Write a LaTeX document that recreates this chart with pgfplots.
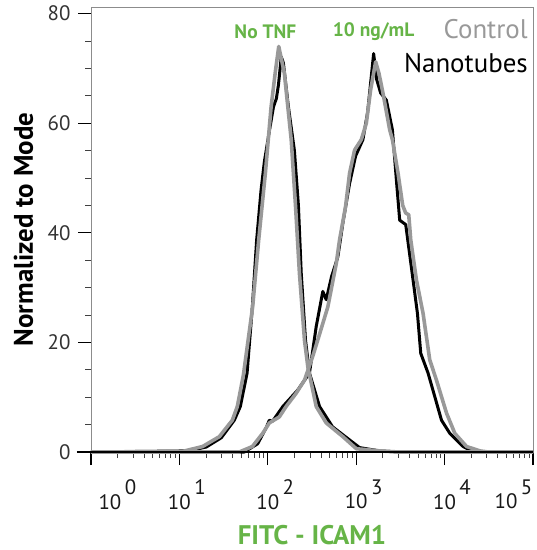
\documentclass[border=0pt]{standalone}
\usepackage{pgfplots}
\pgfplotsset{compat=1.18}
\usepackage{fontspec}
\setmainfont{PT Sans}
\definecolor{ctrlgray}{HTML}{999999}
\definecolor{labelgreen}{HTML}{66B447}
\definecolor{framegray}{HTML}{8C8C8C}
% "10" centred on the tick, exponent hanging to the right; optional shift of the whole label
\newcommand{\dec}[2][0bp]{\makebox[0pt][l]{\hspace*{#1}\makebox[0pt]{10\rlap{\raisebox{0.7em}{\,#2}}}}}

\begin{document}
\begin{tikzpicture}
\begin{axis}[
    scale only axis,
    width=442bp, height=445bp,
    xmode=log,
    xmin=1, xmax=100000,
    ymin=0, ymax=81.2,
    clip=false,
    axis line style={framegray, line width=0.7bp},
    tick align=outside,
    xtick pos=bottom, ytick pos=left,
    xtick={1,10,100,1000,10000,100000},
    minor xtick={2,3,4,5,6,7,8,9,20,30,40,50,60,70,80,90,200,300,400,500,600,700,800,900,
                 2000,3000,4000,5000,6000,7000,8000,9000,20000,30000,40000,50000,60000,70000,80000,90000},
    xticklabels={\dec[19bp]{0}, \dec{1}, \dec{2}, \dec{3}, \dec{4}, \dec[-27bp]{5}},
    ytick={0,20,40,60,80},
    minor ytick={5,10,15,25,30,35,45,50,55,65,70,75},
    major tick length=13bp,
    minor tick length=6bp,
    every major tick/.style={black, line width=1.2bp},
    every minor tick/.style={black!75, line width=0.8bp},
    /pgf/number format/assume math mode=true,
    yticklabel style={font=\fontsize{21}{24}\selectfont, text=black!80, xshift=-4bp},
    xticklabel style={font=\fontsize{21}{24}\selectfont, text=black!90, yshift=-11bp},
    xlabel={FITC - ICAM1},
    ylabel={Normalized to Mode},
    xlabel style={font=\fontsize{27}{30}\selectfont\bfseries, text=labelgreen,
                  at={(rel axis cs:0.5,0)}, anchor=base, yshift=-92bp},
    ylabel style={font=\fontsize{27}{30}\selectfont\bfseries,
                  at={(rel axis cs:0,0.5)}, anchor=base, yshift=58bp},
]
% Nanotubes, no TNF
\addplot[black, line width=3bp, line join=round] coordinates {
(1,0) (12.3,0.2) (20.1,0.9) (29.8,2.6) (41.8,5.8) (48.9,8.3) (58.3,14.4) (66.9,26.5)
(74.8,38.7) (83.9,47.8) (91.5,53) (104,58.5) (116,63) (125,64.5) (132,67) (142,72.1)
(150,71) (171,63) (200,55) (222,45) (239,32.6) (267,20.4) (296,14.4) (385,8.3)
(540,4.6) (842,2.2) (1093,0.8) (1842,0.2) (3000,0) (100000,0)
};
% Nanotubes, 10 ng/mL
\addplot[black, line width=3bp, line join=round] coordinates {
(1,0) (54.3,0) (76.8,1.5) (96.4,4.5) (104,5.8) (113,5.6) (148,8.3) (218,11.3)
(296,14.4) (353,22.9) (419,29.3) (458,27.8) (526,32) (620,35.6) (707,41.8) (842,49)
(984,54) (1191,57) (1347,62) (1575,72.7) (1703,68) (1891,65.5) (2194,64.2) (2567,58.8)
(2849,49.6) (3105,42.3) (3632,41.5) (4396,31.4) (4929,25.3) (5373,18.0) (6501,14.4)
(7744,10.1) (9225,5.8) (11460,3.4) (16210,1.0) (20180,0.2) (26000,0) (100000,0)
};
% Control, no TNF
\addplot[ctrlgray, line width=3.6bp, line join=round] coordinates {
(1,0) (10.8,0.1) (18.3,1.0) (28.3,2.8) (39.7,5.8) (45.2,8.3) (52.9,14) (67.4,26.5)
(78.9,38.7) (93.9,50.9) (109,63) (122,69.5) (133,74) (154,69.1) (184,57) (206,44.8)
(228,32.6) (260,20.4) (284,15.5) (353,8.3) (458,5.3) (707,2.8) (1003,0.6) (1842,0.2)
(3000,0) (100000,0)
};
% Control, 10 ng/mL
\addplot[ctrlgray, line width=3.6bp, line join=round] coordinates {
(1,0) (47.6,0) (66.9,1.0) (87.5,3.4) (104,5.3) (135,6.4) (161,8.3) (209,10.7)
(260,13.1) (323,17.5) (385,21.5) (478,26.5) (595,34.4) (648,38.7) (758,44.8) (842,50.9)
(959,55.1) (1142,57) (1302,60) (1457,66.1) (1660,71.2) (1809,69.1) (2008,65.5) (2392,58.8)
(2567,57) (2971,50.9) (3358,45) (3632,43.6) (3929,43.3) (4140,38.7) (4801,31.4) (5705,25.3)
(6795,16.8) (8094,13.1) (10510,7.1) (13050,3.4) (17720,1.0) (25070,0.2) (31000,0) (100000,0)
};
\draw[black, line width=1.3bp] ([xshift=-14bp]rel axis cs:0,0) -- (rel axis cs:1,0);
\node[font=\fontsize{19.5}{22}\selectfont\bfseries, text=labelgreen, anchor=base]
    at (axis cs:93.9,75.4) {No TNF};
\node[font=\fontsize{19.5}{22}\selectfont\bfseries, text=labelgreen, anchor=base]
    at (axis cs:1575,75.9) {10 ng/mL};
\node[font=\fontsize{27}{30}\selectfont, text=ctrlgray, anchor=base east, inner sep=0pt]
    at (axis cs:87700,75.4) {Control};
\node[font=\fontsize{27}{30}\selectfont, text=black, anchor=base east, inner sep=0pt]
    at (axis cs:87700,69.3) {Nanotubes};
\coordinate (sw) at (rel axis cs:0,0);
\end{axis}
\path (sw) ++(-91bp,-98bp) rectangle ++(537bp,550bp);
\end{tikzpicture}
\end{document}
